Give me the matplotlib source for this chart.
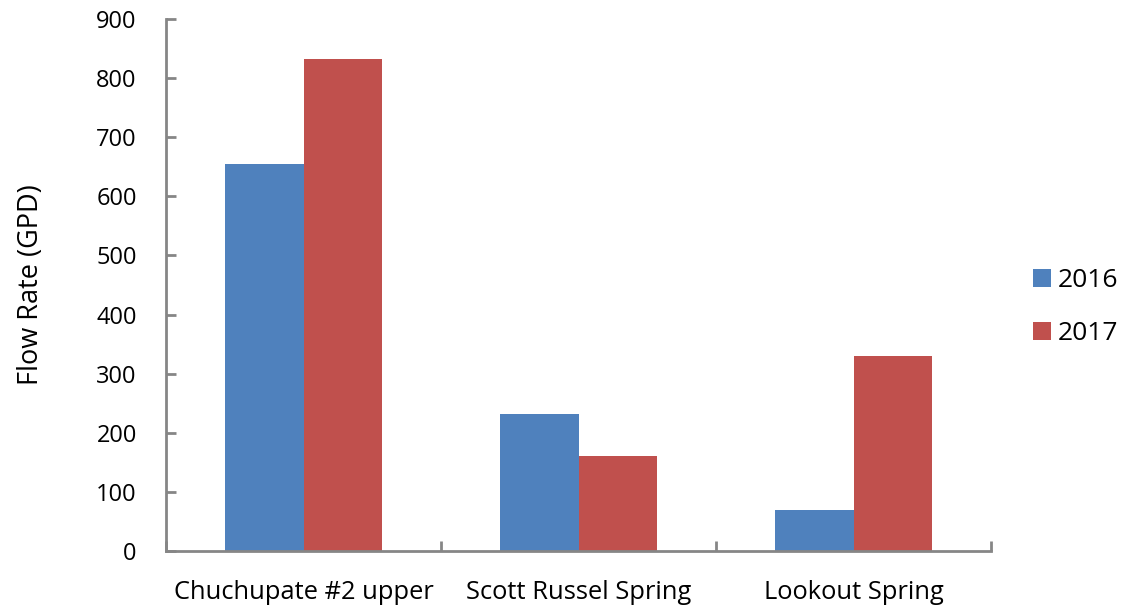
import numpy as np
import matplotlib.pyplot as plt

plt.rcParams['font.family'] = ['Open Sans', 'DejaVu Sans']

sites = ["Chuchupate #2 upper", "Scott Russel Spring", "Lookout Spring"]
years = ["2016", "2017"]
flow_2016 = [654, 232, 69]
flow_2017 = [833, 160, 330]

colors = ["#4f81bd", "#c0504d"]
axis_gray = "#868686"

fig = plt.figure(figsize=(11.37, 6.07), dpi=100)
ax = fig.add_axes([0.146, 0.0923, 0.7256, 0.8764])

x = np.arange(len(sites))
w = 2 / 7
ax.bar(x - w / 2, flow_2016, w, color=colors[0], label=years[0])
ax.bar(x + w / 2, flow_2017, w, color=colors[1], label=years[1])

ax.set_xlim(-0.5, len(sites) - 0.5)
ax.set_ylim(0, 900)
ax.set_yticks(range(0, 901, 100))

# category labels sit between the boundary ticks
ax.set_xticks(x)
ax.set_xticklabels(sites)
ax.set_xticks(np.arange(-0.5, len(sites), 1), minor=True)
ax.tick_params(axis='x', which='major', length=0, pad=21, labelsize=18.4)
ax.tick_params(axis='x', which='minor', direction='in', length=7, width=2, color=axis_gray)
ax.tick_params(axis='y', direction='in', length=7, width=2, color=axis_gray, pad=21, labelsize=17)

for side in ['top', 'right']:
    ax.spines[side].set_visible(False)
for side in ['left', 'bottom']:
    ax.spines[side].set_color(axis_gray)
    ax.spines[side].set_linewidth(2)

ax.set_ylabel("Flow Rate (GPD)", fontsize=19.5, labelpad=37)

ax.legend(loc='center left', bbox_to_anchor=(1.022, 0.458), frameon=False, fontsize=19,
          handlelength=0.7, handleheight=0.7, handletextpad=0.25, labelspacing=1.05)

fig.savefig("out.png", dpi=100)
